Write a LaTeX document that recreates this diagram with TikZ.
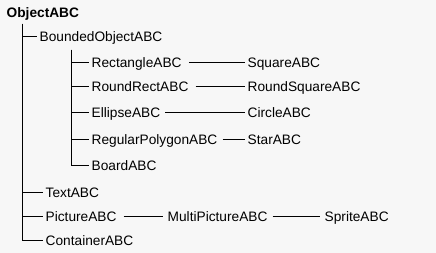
\documentclass[tikz,border=0pt]{standalone}
\usepackage{fontspec}
\setmainfont{Liberation Sans}
\begin{document}
\begin{tikzpicture}[x=1pt, y=-1pt,
        cls/.style={anchor=west, inner xsep=3pt, inner ysep=0pt, text height=9.8pt, text depth=0pt, font=\fontsize{13.7}{16}\selectfont},
        edge/.style={line width=1pt}]
        \fill[fill={rgb,255:red,247;green,247;blue,247}] (0,0) rectangle (436,253);

        \node [cls, font=\fontsize{13.7}{16}\selectfont\bfseries] (Obj) at (3.5,13) {ObjectABC};
        \node [cls] (Bnd) at (36.5,37) {BoundedObjectABC};
        \node [cls] (Rect) at (88.5,63) {RectangleABC};
        \node [cls] (RRect) at (88.5,87) {RoundRectABC};
        \node [cls] (Ell) at (88.5,113) {EllipseABC};
        \node [cls] (Poly) at (88.5,140) {RegularPolygonABC};
        \node [cls] (Board) at (88.5,166) {BoardABC};
        \node [cls] (Text) at (42.5,193) {TextABC};
        \node [cls] (Pic) at (42.5,217) {PictureABC};
        \node [cls] (Cont) at (42.5,241) {ContainerABC};

        \node [cls] (Sq) at (244.5,63) {SquareABC};
        \node [cls] (RSq) at (244.5,87) {RoundSquareABC};
        \node [cls] (Circ) at (244.5,113) {CircleABC};
        \node [cls] (Star) at (244.5,140) {StarABC};
        \node [cls] (MPic) at (164.5,217) {MultiPictureABC};
        \node [cls] (Spr) at (321.5,217) {SpriteABC};

        \coordinate (T1) at (22.5,24);
        \coordinate (T2) at (71.5,50);

        \draw[edge] (T1) |- (Cont.west);
        \draw[edge] (T1) |- (Bnd.west);
        \draw[edge] (T1) |- (Text.west);
        \draw[edge] (T1) |- (Pic.west);

        \draw[edge] (T2) |- (Board.west);
        \draw[edge] (T2) |- (Rect.west);
        \draw[edge] (T2) |- (RRect.west);
        \draw[edge] (T2) |- (Ell.west);
        \draw[edge] (T2) |- (Poly.west);

        \draw[edge, shorten <=4pt] (Rect) -- (Sq);
        \draw[edge, shorten <=4pt] (RRect) -- (RSq);
        \draw[edge, shorten <=2pt] (Ell) -- (Circ);
        \draw[edge, shorten <=2pt] (Poly) -- (Star);
        \draw[edge, shorten <=4pt, shorten >=2pt] (Pic) -- (MPic);
        \draw[edge, shorten <=2pt, shorten >=2pt] (MPic) -- (Spr);
    \end{tikzpicture}
\end{document}
